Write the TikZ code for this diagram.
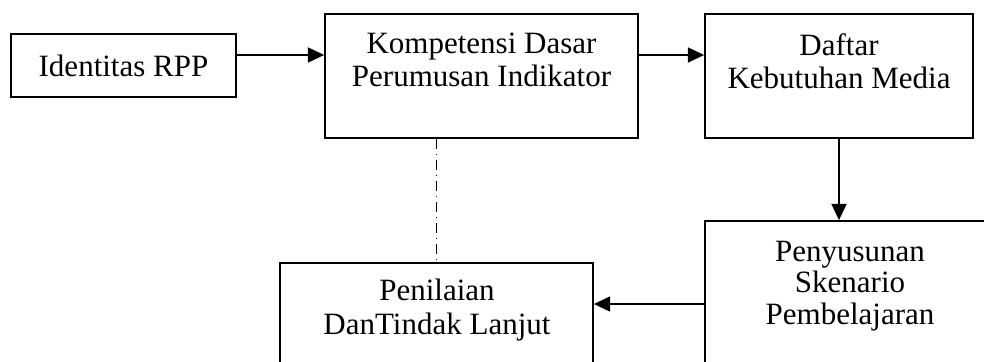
\documentclass[tikz,border=0pt]{standalone}
\usepackage{fontspec}
\setmainfont{Liberation Serif}
\usepackage{tikz}
\usetikzlibrary{arrows.meta, positioning}
\tikzset{
  boxnode/.style={rectangle,draw=black,line width=0.7pt,inner sep=0pt,font=\fontsize{12.4}{13.3}\selectfont},
  txtnode/.style={align=center,inner sep=0pt,font=\fontsize{12.4}{13.3}\selectfont},
  diredge/.style={-{Triangle[length=6.5pt,width=6pt]},line width=0.7pt},
  dashedge/.style={line width=0.5pt,dash pattern=on 4pt off 2pt on 0.4pt off 2pt},
}

\begin{document}
\begin{tikzpicture}[x=0.4pt,y=-0.4pt]
  \useasboundingbox (0,0) rectangle (984,361);
  \clip (0,0) rectangle (984,361);
  \node[boxnode,minimum width=90pt,minimum height=25.2pt] (nId) at (123.5,65.5) {Identitas RPP};
  \node[boxnode,minimum width=125.2pt,minimum height=49.6pt] (nKD) at (481.5,76) {};
  \node[boxnode,minimum width=107.2pt,minimum height=49.6pt] (nDM) at (839,76) {};
  \node[boxnode,minimum width=116pt,minimum height=63.6pt] (nPS) at (850,300.5) {};
  \node[boxnode,minimum width=125.2pt,minimum height=46.8pt] (nPN) at (436.5,321.5) {};
  \node[txtnode] (tKD) at (481.5,60) {Kompetensi Dasar\\Perumusan Indikator};
  \node[txtnode] (tDM) at (839,61.5) {Daftar\\Kebutuhan Media};
  \node[txtnode,font=\fontsize{12.4}{12.6}\selectfont] (tPS) at (850,286) {Penyusunan\\Skenario\\Pembelajaran};
  \node[txtnode] (tPN) at (437,310) {Penilaian\\DanTindak Lanjut};
  \coordinate (cPS) at ([yshift=-1.4pt]nPS.west);
  \draw[diredge] ([yshift=4.2pt]nId.east) -- ([yshift=8.4pt]nKD.west);
  \draw[diredge] ([yshift=8.4pt]nKD.east) -- ([yshift=8.4pt]nDM.west);
  \draw[diredge] (nDM.south) -- (nDM.south |- nPS.north);
  \draw[diredge] (cPS) -- (cPS -| nPN.east);
  \draw[dashedge] (nPN.north |- nKD.south) -- (nPN.north);
\end{tikzpicture}
\end{document}
